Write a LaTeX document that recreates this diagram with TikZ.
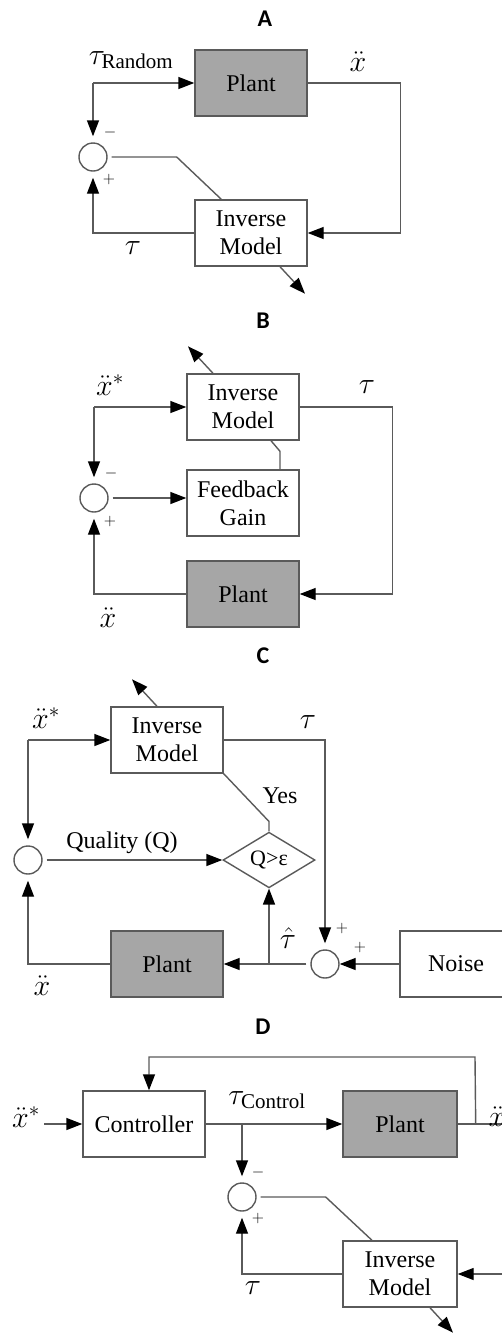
\documentclass[tikz,border=0pt]{standalone}
\usepackage{fix-cm}
\usepackage{fontspec}
\setmainfont{Liberation Serif}
\newfontfamily\titlefont{Carlito}
\usetikzlibrary{calc,shapes.geometric,arrows.meta}

\definecolor{linegray}{HTML}{5A5A5A}
\definecolor{plantgray}{HTML}{A6A6A6}

\tikzset{
	blk/.style={draw=linegray, line width=1.4pt, minimum width=112pt, minimum height=66pt, align=center, inner sep=2pt, font=\fontsize{24}{28}\selectfont},
	plantblk/.style={blk, fill=plantgray},
	sumnode/.style={draw=linegray, line width=1.4pt, circle, minimum size=28pt, inner sep=0pt},
	lbl/.style={inner sep=0pt, font=\fontsize{30}{32}\selectfont},
	txt/.style={inner sep=0pt, font=\fontsize{24}{26}\selectfont},
	sgn/.style={inner sep=0pt, font=\fontsize{16}{16}\selectfont},
	ttl/.style={inner sep=0pt, font=\titlefont\bfseries\fontsize{24}{24}\selectfont},
	wire/.style={draw=linegray, line width=1.4pt},
	arr/.style={wire, -{Triangle[length=16pt,width=12pt,color=black]}},
	arrsum/.style={arr, shorten >=6pt},
}

\begin{document}
\begin{tikzpicture}[x=1pt, y=-1pt]
	%%%%% START %%%%%
	\useasboundingbox (0,0) rectangle (501,1334);
	
	%%%%% A %%%%%
	\node[ttl] (titleA) at (265,19) {A};
	\node[plantblk] (plantA) at (251,83) {Plant};
	\node[blk] (invA) at (251,233) {Inverse\\Model};
	\node[sumnode] (sumA) at (93,157) {};
	\coordinate (cA) at (93,83);
	
	\draw[arr] (cA) -- (plantA.west);
	\draw[arrsum] (cA) -- (sumA.north);
	\draw[arr] (plantA.east) -- ++(93,0) |- (invA.east);
	\draw[arrsum] (invA.west) -| (sumA.south);
	\draw[wire, shorten <=4pt] (sumA.east) -- ++(69,0) -- ($(invA.north west)+(27,0)$);
	\draw[arr] ($(invA.south)+(29,0)$) -- ++(25,27);
	
	\node[lbl] (tauRandA) at (131,60) {$\tau_{\mathrm{Random}}$};
	\node[lbl] (xddA) at (358,62) {$\ddot{x}$};
	\node[lbl] (tauA) at (133,248) {$\tau$};
	\node[sgn] (minusA) at (110,132) {$-$};
	\node[sgn] (plusA) at (109,179) {$+$};
	
	%%%%% B %%%%%
	\node[ttl] (titleB) at (263,321) {B};
	\node[blk] (invB) at (243,407) {Inverse\\Model};
	\node[blk] (gainB) at (243,503) {Feedback\\Gain};
	\node[plantblk] (plantB) at (243,594) {Plant};
	\node[sumnode] (sumB) at (94,498) {};
	\coordinate (cB) at (94,407);
	
	\draw[arr] (cB) -- (invB.west);
	\draw[arrsum] (cB) -- (sumB.north);
	\draw[arr, shorten <=4pt] (sumB.east) -- (sumB.east -| gainB.west);
	\draw[arr] (invB.east) -- ++(93,0) |- (plantB.east);
	\draw[arrsum] (plantB.west) -| (sumB.south);
	\draw[wire] ($(gainB.north)+(37,0)$) -- ++(0,-18) -- ($(invB.south)+(28,0)$);
	\draw[arr] ($(invB.north)+(-30,0)$) -- ++(-25,-27);
	
	\node[lbl] (xsB) at (110,385) {$\ddot{x}^{*}$};
	\node[lbl] (tauB) at (367,387) {$\tau$};
	\node[lbl] (xddB) at (108,618) {$\ddot{x}$};
	\node[sgn] (minusB) at (111,473) {$-$};
	\node[sgn] (plusB) at (110,521) {$+$};
	
	%%%%% C %%%%%
	\node[ttl] (titleC) at (263,656) {C};
	\node[blk] (invC) at (167,740) {Inverse\\Model};
	\node[plantblk] (plantC) at (167,964) {Plant};
	\node[blk] (noiseC) at (456,964) {Noise};
	\node[sumnode] (sumC) at (28,860) {};
	\node[sumnode] (addC) at (325,964) {};
	\node[diamond, draw=linegray, line width=1.4pt, minimum width=92pt, minimum height=55pt, inner sep=0pt, font=\fontsize{22}{22}\selectfont] (testC) at (269,860) {Q>ε};
	\coordinate (cC) at (28,740);
	\coordinate (bC) at (269,964);
	
	\draw[arr] (cC) -- (invC.west);
	\draw[arrsum] (cC) -- (sumC.north);
	\draw[arr, shorten <=4pt] (sumC.east) -- (testC.west);
	\draw[wire] (testC.north) -- ++(0,-10) -- (invC.south east);
	\draw[arrsum] (invC.east) -| (addC.north);
	\draw[arr] (noiseC.west) -- (addC.east);
	\draw[arr, shorten <=4pt] (addC.west) -- (plantC.east);
	\draw[arr] (bC) -- (testC.south);
	\draw[arrsum] (plantC.west) -| (sumC.south);
	\draw[arr] ($(invC.north)+(-10,0)$) -- ++(-25,-27);
	
	\node[lbl] (xsC) at (46,718) {$\ddot{x}^{*}$};
	\node[lbl] (tauC) at (308,722) {$\tau$};
	\node[txt] (qualC) at (122,843) {Quality (Q)};
	\node[txt] (yesC) at (280,796) {Yes};
	\node[lbl] (tauhatC) at (288,938) {$\hat{\tau}$};
	\node[lbl] (xddC) at (42,986) {$\ddot{x}$};
	\node[sgn] (plusC) at (342,928) {$+$};
	\node[sgn] (plusCC) at (360,947) {$+$};
	
	%%%%% D %%%%%
	\node[ttl] (titleD) at (263,1027) {D};
	\node[blk, minimum width=122pt] (ctrlD) at (144,1124) {Controller};
	\node[plantblk, minimum width=114pt] (plantD) at (400,1124) {Plant};
	\node[blk, minimum width=114pt] (invD) at (400,1274) {Inverse\\Model};
	\node[sumnode] (sumD) at (242,1197) {};
	\node[lbl] (xsD) at (26,1117) {$\ddot{x}^{*}$};
	\coordinate (bD) at (242,1124);
	\coordinate (fbD) at (475,1057);
	
	\draw[arr] (xsD.east |- ctrlD.west) ++(4,0) -- (ctrlD.west);
	\draw[arr] (ctrlD.east) -- (plantD.west);
	\draw[arrsum] (bD) -- (sumD.north);
	\draw[wire] (plantD.east) -- ++(60,0);
	\draw[arr] ($(plantD.east)+(18,0)$) -- (fbD) -| ($(ctrlD.north)+(5,0)$);
	\draw[arr] ($(invD.east)+(60,0)$) -- (invD.east);
	\draw[arrsum] (invD.west) -| (sumD.south);
	\draw[wire, shorten <=4pt] (sumD.east) -- ++(69,0) -- ($(invD.north)+(-28,0)$);
	\draw[arr] ($(invD.south)+(30,0)$) -- ++(23,25);
	
	\node[lbl] (tauCtrlD) at (267,1100) {$\tau_{\mathrm{Control}}$};
	\node[lbl] (xddD) at (497,1117) {$\ddot{x}$};
	\node[lbl] (tauD) at (253,1288) {$\tau$};
	\node[sgn] (minusD) at (258,1172) {$-$};
	\node[sgn] (plusD) at (258,1218) {$+$};
	%%%%% END %%%%%
\end{tikzpicture}
\end{document}
